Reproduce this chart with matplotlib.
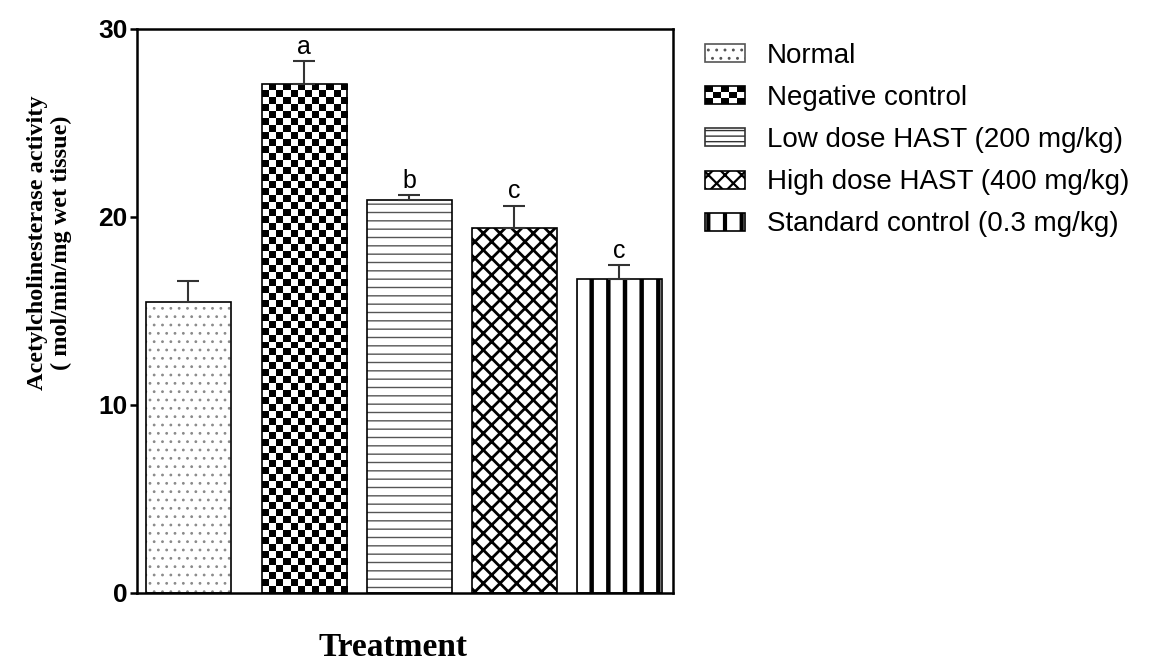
import numpy as np
import matplotlib
matplotlib.use('Agg')
import matplotlib.pyplot as plt
from matplotlib.patches import Rectangle, Patch
from matplotlib.colors import ListedColormap
from matplotlib.legend_handler import HandlerBase, HandlerPatch

# Datos: actividad de acetilcolinesterasa por grupo
groups = ['Normal', 'Negative control', 'Low dose HAST (200 mg/kg)',
          'High dose HAST (400 mg/kg)', 'Standard control (0.3 mg/kg)']
means = [15.5, 27.1, 20.9, 19.4, 16.7]
sem = [1.1, 1.2, 0.25, 1.2, 0.75]
letters = ['', 'a', 'b', 'c', 'c']

sans = ['Liberation Sans', 'DejaVu Sans']
serif = ['Liberation Serif', 'DejaVu Serif']

# Posiciones de las barras (el primer hueco es algo mayor)
xpos = np.array([0, 1.1, 2.1, 3.1, 4.1])
width = 0.81

fig = plt.figure(figsize=(11.49, 6.62), dpi=100)
ax = fig.add_axes([137/1149, 1 - 593/662, (673 - 137)/1149, (593 - 29)/662])

# estilos de relleno: (hatch, color del hatch, grosor del hatch)
styles = [('..', '#8a8a8a', 0.8), (None, 'black', 1.0), ('--', '#555555', 1.0),
          ('xx', 'black', 2.0), ('|', 'black', 3.2)]


def set_hlw(p, lw):
    if hasattr(p, 'set_hatch_linewidth'):
        p.set_hatch_linewidth(lw)


plt.rcParams['hatch.linewidth'] = 1.5

for i, (x, m) in enumerate(zip(xpos, means)):
    hatch, hc, hlw = styles[i]
    if hatch is not None:
        b = ax.bar(x, m, width, color='white', edgecolor=hc, hatch=hatch,
                   linewidth=0, zorder=2)
        set_hlw(b[0], hlw)
    else:
        # tablero de ajedrez dentro de la barra
        b = ax.bar(x, m, width, color='white', linewidth=0, zorder=2)
        nx = 12
        ny = int(round(m / 0.372))
        board = (np.indices((ny, nx)).sum(axis=0) % 2)
        im = ax.imshow(board, cmap=ListedColormap(['white', 'black']),
                       extent=[x - width/2, x + width/2, 0, m], origin='lower',
                       interpolation='nearest', aspect='auto', zorder=2.5)
        im.set_clip_path(b[0])
    ax.bar(x, m, width, color='none', edgecolor='black', linewidth=1.2, zorder=3)

ax.errorbar(xpos, means, yerr=[np.zeros(len(means)), sem], fmt='none',
            ecolor='#333333', elinewidth=1.5, capsize=8, capthick=1.5, zorder=4)

for x, m, s, t in zip(xpos, means, sem, letters):
    if t:
        ax.text(x, m + s + 0.12, t, ha='center', va='bottom', fontsize=18,
                family=sans)

ax.set_xlim(-0.49, 4.61)
ax.set_ylim(0, 30)
ax.set_yticks([0, 10, 20, 30])
ax.set_xticks([])
for s in ax.spines.values():
    s.set_linewidth(1.8)
ax.tick_params(axis='y', length=5, width=1.8, pad=2)
for lab in ax.get_yticklabels():
    lab.set_fontfamily(sans)
    lab.set_fontweight('bold')
    lab.set_fontsize(19)

fig.text(0.043, 0.633, 'Acetylcholinesterase activity\n( mol/min/mg wet tissue)',
         rotation=90, ha='center', va='center', fontsize=17.5, fontweight='bold',
         family=serif, linespacing=1.2)
fig.text(393/1149, 1 - 648/662, 'Treatment', ha='center', va='center',
         fontsize=24, fontweight='bold', family=serif)


# leyenda con icono de tablero para el control negativo
class HandlerChecker(HandlerBase):
    def create_artists(self, legend, orig_handle, xdescent, ydescent,
                       width, height, fontsize, trans):
        arts = [Rectangle((-xdescent, -ydescent), width, height,
                          facecolor='white', edgecolor='none', transform=trans)]
        nx, ny = 5, 3
        cw, ch = width / nx, height / ny
        for r in range(ny):
            for c in range(nx):
                if (r + c) % 2 == 0:
                    arts.append(Rectangle((-xdescent + c*cw, -ydescent + r*ch),
                                          cw, ch, facecolor='black',
                                          edgecolor='none', transform=trans))
        arts.append(Rectangle((-xdescent, -ydescent), width, height,
                              facecolor='none', edgecolor='black', lw=1.2,
                              transform=trans))
        return arts


# copia el grosor del hatch al icono de la leyenda
class HandlerHatch(HandlerPatch):
    def __init__(self, hlw, **kw):
        super().__init__(**kw)
        self.hlw = hlw

    def create_artists(self, *args, **kw):
        arts = super().create_artists(*args, **kw)
        for a in arts:
            set_hlw(a, self.hlw)
        return arts


legend_hatch = ['..', None, '---', 'xx', '|']
legend_edge = ['#555555', 'black', '#333333', 'black', 'black']
legend_hlw = [0.9, 1.0, 1.0, 1.6, 3.0]
handles = []
hmap = {}
for i in range(5):
    hatch = legend_hatch[i]
    if hatch is None:
        p = Patch(facecolor='white', edgecolor='black')
        hmap[p] = HandlerChecker()
    else:
        p = Patch(facecolor='white', edgecolor=legend_edge[i], hatch=hatch, lw=1.2)
        hmap[p] = HandlerHatch(legend_hlw[i])
    handles.append(p)

leg = fig.legend(handles, groups, loc='upper left',
                 bbox_to_anchor=(705/1149, 1 - 43/662), frameon=False,
                 prop={'family': sans, 'size': 20}, handlelength=1.44,
                 handleheight=0.62, handletextpad=0.78, labelspacing=0.58,
                 borderpad=0, borderaxespad=0, handler_map=hmap)

fig.savefig('out.png', dpi=100)
